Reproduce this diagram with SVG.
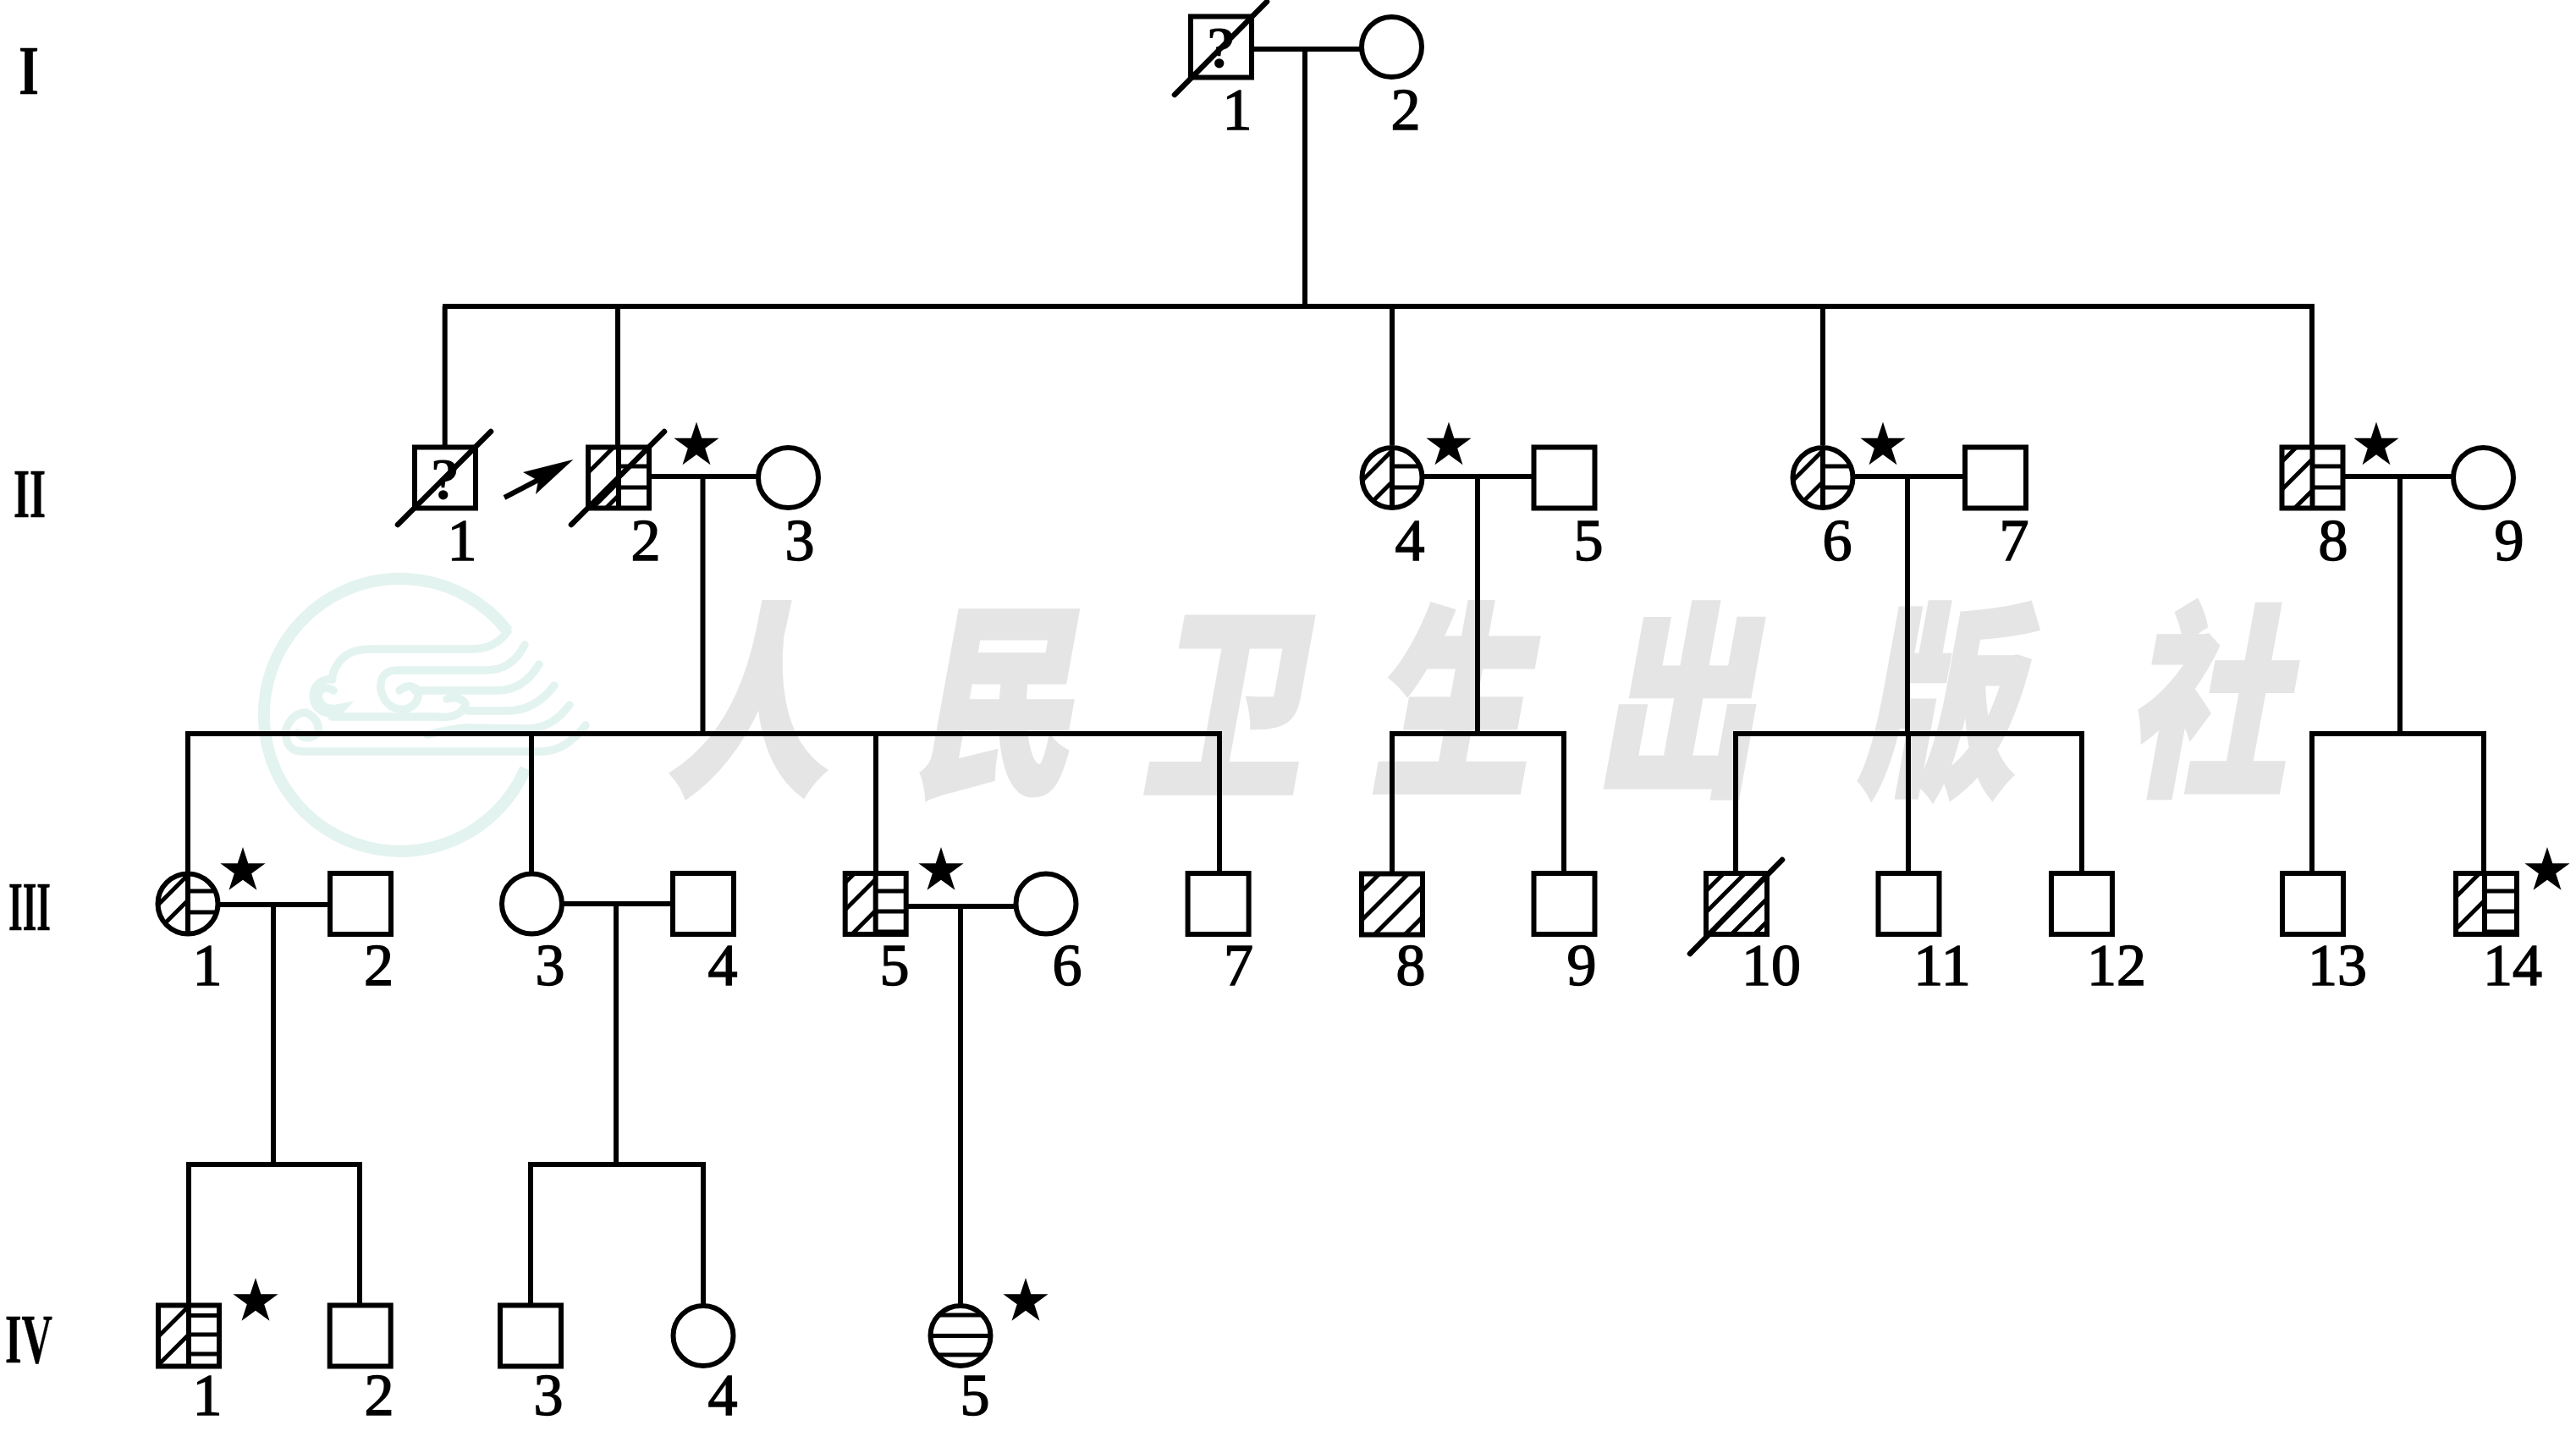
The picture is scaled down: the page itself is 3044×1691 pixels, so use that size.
<svg xmlns="http://www.w3.org/2000/svg" width="3044" height="1691" viewBox="0 0 3044 1691">
<style>
text{font-family:"Liberation Serif","Times New Roman",serif;fill:#000;stroke:#000;stroke-width:1.5}
.n{font-size:70px;text-anchor:middle}
.q{font-size:70px;text-anchor:middle;font-weight:700;stroke:none}
.g{font-size:82px;text-anchor:start;font-weight:700;stroke-width:.5}
.s{fill:#fff;stroke:#000;stroke-width:6}
.c{fill:none;stroke:#000;stroke-width:6}
.d{fill:none;stroke:#000;stroke-width:5}
.x{fill:none;stroke:#000;stroke-width:6.500;stroke-linecap:round}
.wl{fill:none;stroke:#e3f3f0;stroke-width:9.500;stroke-linecap:round}
.wt{font-family:"Noto Sans CJK SC",sans-serif;font-size:222px;font-weight:900;fill:#e5e5e5;stroke:#e5e5e5;stroke-width:4}
</style>
<defs>
<clipPath id="lq"><rect x="-36" y="-36" width="36" height="72"/></clipPath>
<clipPath id="rq"><rect x="0" y="-36" width="36" height="72"/></clipPath>
<clipPath id="fq"><rect x="-36" y="-36" width="72" height="72"/></clipPath>
<clipPath id="lc"><path d="M0-35.500A35.500 35.500 0 0 0 0 35.500Z"/></clipPath>
<clipPath id="rc"><path d="M0-35.500A35.500 35.500 0 0 1 0 35.500Z"/></clipPath>
<clipPath id="fc"><circle r="35.500"/></clipPath>
<rect id="sq" class="s" x="-36" y="-36" width="72" height="72"/>
<circle id="ci" class="s" r="35.500"/>
<polygon id="star" fill="#000" points="0,-28 6.300,-8.700 26.600,-8.700 10.200,3.300 16.500,22.700 0,10.800 -16.500,22.700 -10.200,3.300 -26.600,-8.700 -6.300,-8.700"/>
</defs>
<rect width="3044" height="1691" fill="#fff"/>
<g id="watermark">
<g id="logo">
<path class="wl" style="stroke-width:14;stroke-linecap:butt" d="M600 746A161 161 0 1 0 621 908"/>
<path class="wl" d="M600 746Q585 767 558 767L437 767Q402 767 393 798"/>
<path class="wl" d="M393 803A20 20 0 1 0 405 836Q378 842 376 822Q380 808 394 816"/>
<path class="wl" d="M392 847L515 847"/>
<path class="wl" d="M620 762Q605 792 575 792L470 792Q448 792 450 815Q456 840 480 838Q496 832 494 816Q484 806 472 816"/>
<path class="wl" d="M637 785Q618 817 585 816L490 816"/>
<path class="wl" d="M655 810Q632 840 600 840L552 840"/>
<path class="wl" d="M515 847Q545 850 550 832Q545 822 528 826"/>
<path class="wl" d="M673 833Q652 862 620 861L550 860Q530 862 505 868"/>
<path class="wl" d="M692 857Q668 888 640 888L358 888Q336 888 338 862Q345 842 362 842Q378 850 376 866Q362 878 352 866"/>
</g>
<text class="wt" transform="matrix(.85 0 -.2 1.100 0 0)" x="1124 1465 1783 2100 2414 2777 3152" y="836">人民卫生出版社</text>
</g>
<g id="connectors" class="c">
<path d="M1482 58H1607M1542 58V362M523 362H2735M525.700 362V526M730 362V526M1645 362V526M2154 362V526M2732 362V526"/>
<path d="M768 563H894M830.500 563V867M1682 563H1810M1746 563V867M2192 563H2320M2254 563V867M2771 563H2897M2836 563V867"/>
<path d="M219 867H1444M222 867V1030M628 867V1030M1035 867V1030M1441 867V1030M1642 867H1851M1645 867V1030M1848 867V1030M2048 867H2463M2051 867V1030M2255 867V1030M2460 867V1030M2729 867H2938M2732 867V1030M2935 867V1030"/>
<path d="M260 1069H388M323 1069V1376M666 1068H795M728 1068V1376M1073 1071H1199M1135 1071V1541"/>
<path d="M220 1376H428M223 1376V1540M425 1376V1540M624 1376H834M627 1376V1540M831 1376V1541"/>
</g>
<g id="gen-labels">
<text class="g" x="22" y="111" textLength="24" lengthAdjust="spacingAndGlyphs">I</text>
<text class="g" x="16" y="611" textLength="38" lengthAdjust="spacingAndGlyphs">II</text>
<text class="g" x="10" y="1099" textLength="50" lengthAdjust="spacingAndGlyphs">III</text>
<text class="g" x="6" y="1610" textLength="56" lengthAdjust="spacingAndGlyphs">IV</text>
</g>
<g id="I-1" transform="translate(1443,55.500)"><use href="#sq"/><text class="q" y="24.500">?</text><path class="x" d="M-55 56.500L54-53.500"/><text class="n" x="19" y="97.500">1</text></g>
<g id="I-2" transform="translate(1644.500,55.500)"><use href="#ci"/><text class="n" x="16.500" y="97.500">2</text></g>
<g id="II-1" transform="translate(526,564.500)"><use href="#sq"/><text class="q" y="25.500">?</text><path class="x" d="M-56 55.500L54-54.500"/><text class="n" x="20" y="97.500">1</text></g>
<g id="II-2" transform="translate(731,564.500)"><use href="#sq"/><g clip-path="url(#lq)"><path class="d" d="M-60 18L0-42M-60 81L0 21M-60 65L0 5"/></g><g clip-path="url(#rq)"><path class="d" d="M0-13.500H36M0 11.500H36"/></g><path class="c" d="M0-36V36"/><path class="x" d="M-56 55.500L54-54.500"/><text class="n" x="32" y="97.500">2</text><use href="#star" x="92" y="-38"/></g>
<g id="II-3" transform="translate(931.500,564.500)"><use href="#ci"/><text class="n" x="13.500" y="97.500">3</text></g>
<g id="II-4" transform="translate(1645,564.500)"><use href="#ci"/><g clip-path="url(#lc)"><path class="d" d="M-60 28L0-32M-60 65L0 5"/></g><g clip-path="url(#rc)"><path class="d" d="M0-13.500H36M0 11.500H36"/></g><path class="c" d="M0-36V36"/><text class="n" x="21" y="97.500">4</text><use href="#star" x="67" y="-38"/></g>
<g id="II-5" transform="translate(1848.500,564.500)"><use href="#sq"/><text class="n" x="28.500" y="97.500">5</text></g>
<g id="II-6" transform="translate(2154,564.500)"><use href="#ci"/><g clip-path="url(#lc)"><path class="d" d="M-60 28L0-32M-60 65L0 5"/></g><g clip-path="url(#rc)"><path class="d" d="M0-13.500H36M0 11.500H36"/></g><path class="c" d="M0-36V36"/><text class="n" x="17" y="97.500">6</text><use href="#star" x="71" y="-38"/></g>
<g id="II-7" transform="translate(2358,564.500)"><use href="#sq"/><text class="n" x="22" y="97.500">7</text></g>
<g id="II-8" transform="translate(2732.500,564.500)"><use href="#sq"/><g clip-path="url(#lq)"><path class="d" d="M-60 5L0-55M-60 38L0-22M-60 75L0 15"/></g><g clip-path="url(#rq)"><path class="d" d="M0-13.500H36M0 11.500H36"/></g><path class="c" d="M0-36V36"/><text class="n" x="24.500" y="97.500">8</text><use href="#star" x="75.500" y="-38"/></g>
<g id="II-9" transform="translate(2934.500,564.500)"><use href="#ci"/><text class="n" x="30.500" y="97.500">9</text></g>
<g id="proband-arrow"><path class="c" d="M596 588L640 565"/><polygon fill="#000" points="677.500,543 618,558 636,568 633,584"/></g>
<g id="III-1" transform="translate(222,1068)"><use href="#ci"/><g clip-path="url(#lc)"><path class="d" d="M-60 26L0-34M-60 56L0-4"/></g><g clip-path="url(#rc)"><path class="d" d="M0-15H36M0 10H36"/></g><path class="c" d="M0-36V36"/><text class="n" x="23" y="96">1</text><use href="#star" x="65" y="-39"/></g>
<g id="III-2" transform="translate(426,1068)"><use href="#sq"/><text class="n" x="21.500" y="96">2</text></g>
<g id="III-3" transform="translate(628.500,1068)"><use href="#ci"/><text class="n" x="21.500" y="96">3</text></g>
<g id="III-4" transform="translate(831,1068)"><use href="#sq"/><text class="n" x="23" y="96">4</text></g>
<g id="III-5" transform="translate(1034.700,1068)"><use href="#sq"/><g clip-path="url(#lq)"><path class="d" d="M-60-1L0-61M-60 31L0-29M-60 68L0 8"/></g><g clip-path="url(#rq)"><path class="d" d="M0-15H36M0 9H36M0 33H36"/></g><path class="c" d="M0-36V36"/><text class="n" x="22.300" y="96">5</text><use href="#star" x="77.300" y="-39"/></g>
<g id="III-6" transform="translate(1236,1068)"><use href="#ci"/><text class="n" x="25" y="96">6</text></g>
<g id="III-7" transform="translate(1439.600,1068)"><use href="#sq"/><text class="n" x="24" y="96">7</text></g>
<g id="III-8" transform="translate(1645,1068.500)"><use href="#sq"/><g clip-path="url(#fq)"><path class="d" d="M-60 9L60-111M-60 43L60-77M-60 75L60-45M-60 111L60-9"/></g><text class="n" x="22" y="95.500">8</text></g>
<g id="III-9" transform="translate(1848.500,1068)"><use href="#sq"/><text class="n" x="20.500" y="96">9</text></g>
<g id="III-10" transform="translate(2052,1068)"><use href="#sq"/><g clip-path="url(#fq)"><path class="d" d="M-60 9L60-111M-60 34L60-86M-60 90L60-30M-60 117L60-3"/></g><path class="x" d="M-55 59L54-52"/><text class="n" x="41" y="96">10</text></g>
<g id="III-11" transform="translate(2255.500,1068)"><use href="#sq"/><text class="n" x="39.500" y="96">11</text></g>
<g id="III-12" transform="translate(2460,1068)"><use href="#sq"/><text class="n" x="41" y="96">12</text></g>
<g id="III-13" transform="translate(2733,1068)"><use href="#sq"/><text class="n" x="29" y="96">13</text></g>
<g id="III-14" transform="translate(2938,1068)"><use href="#sq"/><g clip-path="url(#lq)"><path class="d" d="M-60 16L0-44M-60 54L0-6"/></g><g clip-path="url(#rq)"><path class="d" d="M0-15H36M0 9H36M0 33H36"/></g><path class="c" d="M-2-36V36"/><text class="n" x="31" y="96">14</text><use href="#star" x="72" y="-39"/></g>
<g id="IV-1" transform="translate(223,1578.500)"><use href="#sq"/><g clip-path="url(#lq)"><path class="d" d="M-60 25L0-35M-60 58.500L0-1.500"/></g><g clip-path="url(#rq)"><path class="d" d="M0-24H36M0-1.500H36M0 21.500H36"/></g><path class="c" d="M0-36V36"/><text class="n" x="22" y="93.500">1</text><use href="#star" x="79" y="-40.500"/></g>
<g id="IV-2" transform="translate(425.700,1578.500)"><use href="#sq"/><text class="n" x="22.300" y="93.500">2</text></g>
<g id="IV-3" transform="translate(627,1578.500)"><use href="#sq"/><text class="n" x="21" y="93.500">3</text></g>
<g id="IV-4" transform="translate(831,1578.500)"><use href="#ci"/><text class="n" x="23" y="93.500">4</text></g>
<g id="IV-5" transform="translate(1135,1578.500)"><use href="#ci"/><g clip-path="url(#fc)"><path class="d" d="M-36-24.500H36M-36 0H36M-36 22.500H36"/></g><text class="n" x="17" y="93.500">5</text><use href="#star" x="77" y="-40.500"/></g>
</svg>
